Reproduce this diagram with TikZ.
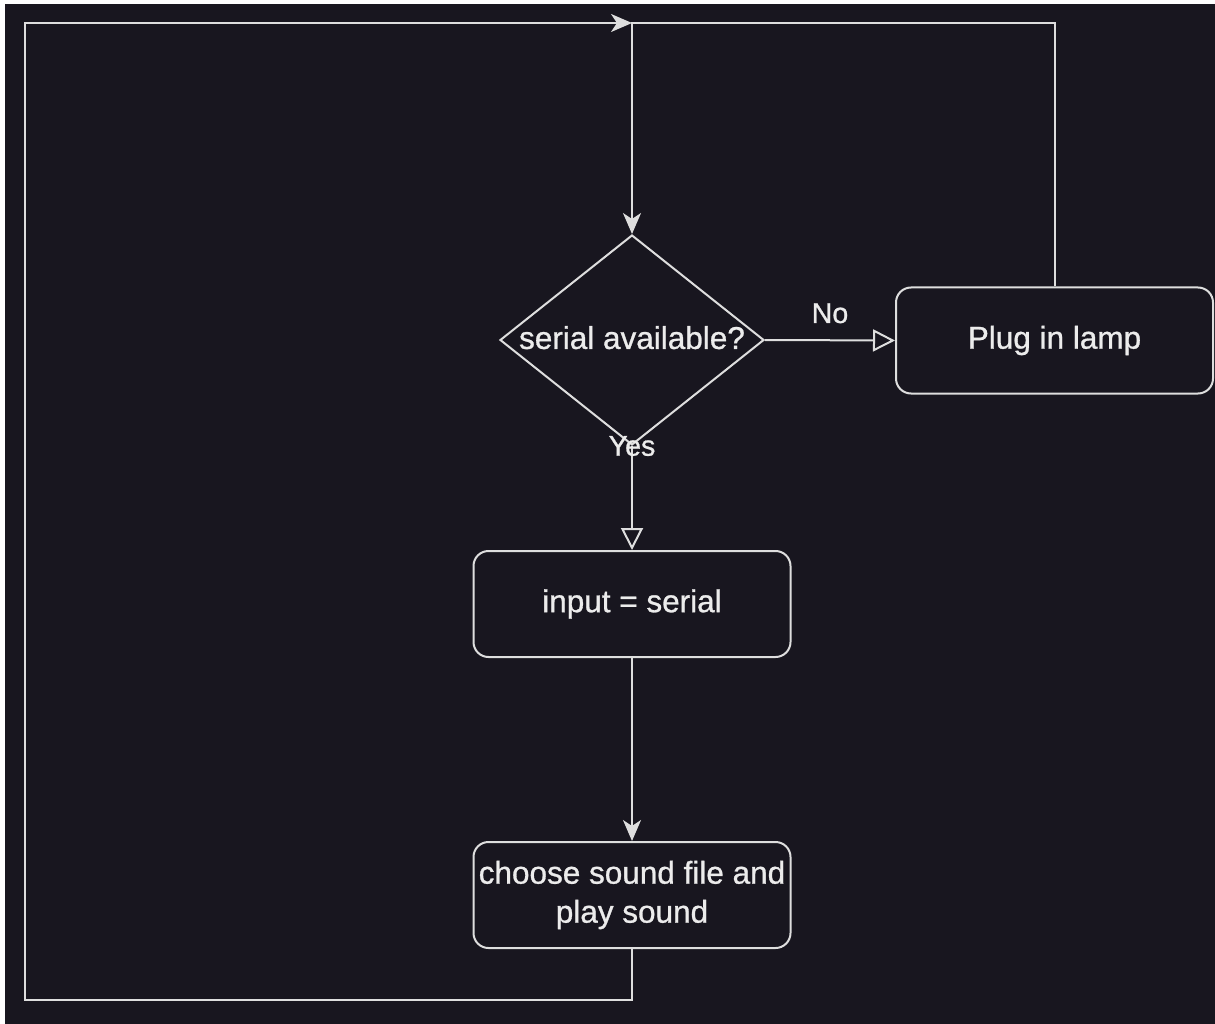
\documentclass[tikz,border=0pt]{standalone}
\usepackage{fontspec}
\setmainfont{Liberation Sans}[FakeBold=0.9]
\usetikzlibrary{shapes.geometric,arrows.meta}
\definecolor{bg}{RGB}{24,22,31}
\definecolor{ln}{RGB}{222,222,222}
\definecolor{tx}{RGB}{236,236,236}
\begin{document}
\begin{tikzpicture}[x=1pt,y=-1pt,
  box/.style={draw=ln,line width=2pt,rounded corners=15pt,minimum width=317pt,minimum height=106pt,inner sep=0pt,text=tx,font=\fontsize{31.5}{40}\selectfont,align=center},
  dec/.style={draw=ln,line width=2pt,diamond,aspect=1.257,minimum width=264pt,minimum height=210pt,inner sep=0pt,text=tx,font=\fontsize{31.5}{40}\selectfont},
  conn/.style={draw=ln,line width=2pt},
  solidtip/.style={-{Stealth[length=21pt,width=18pt,inset=6pt]}},
  opentip/.style={-{Triangle[open,length=22pt,width=22pt]}},
  lbl/.style={text=tx,inner sep=0pt,font=\fontsize{28.6}{34}\selectfont}
]
\fill[white] (0,0) rectangle (1215,1024);
\fill[bg] (5,4) rectangle (1215,1024);
\useasboundingbox (0,0) rectangle (1215,1024);

\node[dec] (d) at (632,340) {\raisebox{5pt}{serial available?}};
\node[box] (plug) at (1054.5,340.5) {Plug in lamp};
\node[box] (inp) at (632,604) {input = serial};
\node[box] (snd) at (632,895) {choose sound file and\\[-1pt]play sound};

\coordinate (j) at (632,23);
\coordinate (tl) at (25,23);
\coordinate (bl) at (25,1000);
\coordinate (br) at (632,1000);

\draw[conn,solidtip] (snd.south) -- (br) -- (bl) -- (tl) -- (j);
\draw[conn,solidtip] (plug.north) |- (j) -- (d.north);
\draw[conn,opentip] (d.east) -- node[lbl,midway,above=16pt] (no) {No} (plug.west);
\draw[conn,opentip] (d.south) -- node[lbl,pos=0] (yes) {Yes} (inp.north);
\draw[conn,solidtip] (inp.south) -- (snd.north);
\end{tikzpicture}
\end{document}
